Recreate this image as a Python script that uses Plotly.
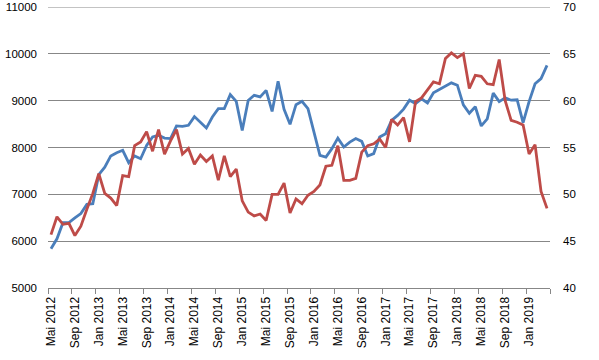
import plotly.graph_objects as go

month_names = ["Jan", "Feb", "Mär", "Apr", "Mai", "Jun", "Jul", "Aug", "Sep", "Okt", "Nov", "Dez"]
start_year, start_month = 2012, 5
n_months = 84
months = []
for k in range(n_months):
    m = (start_month - 1 + k) % 12
    y = start_year + (start_month - 1 + k) // 12
    months.append(f"{month_names[m]} {y}")

blue_values = [
    5840, 6050, 6395, 6395, 6495, 6590, 6785, 6800, 7420, 7580, 7820, 7890,
    7940, 7675, 7820, 7760, 8045, 8225, 8260, 8200, 8190, 8460, 8450, 8475,
    8660, 8545, 8415, 8650, 8830, 8830, 9130, 8985, 8365, 9005, 9115, 9080,
    9220, 8770, 9415, 8815, 8495, 8915, 8985, 8830, 8315, 7830, 7795, 7975,
    8200, 8010, 8115, 8190, 8130, 7820, 7870, 8225, 8295, 8580, 8685, 8820,
    9010, 8940, 9040, 8950, 9170, 9240, 9300, 9380, 9330, 8910, 8730, 8870,
    8460, 8610, 9160, 8980, 9060, 9010, 9020, 8530, 8980, 9360, 9470, 9755,
]
red_values = [
    45.7, 47.6, 46.8, 46.9, 45.6, 46.6, 48.4, 50.1, 52.2, 50.1, 49.6, 48.8,
    52.0, 51.9, 55.2, 55.6, 56.7, 54.6, 56.9, 54.3, 55.7, 56.9, 54.3, 54.9,
    53.2, 54.2, 53.5, 54.1, 51.5, 54.1, 51.9, 52.7, 49.3, 48.1, 47.7, 47.9,
    47.2, 50.0, 50.0, 51.2, 48.0, 49.5, 49.0, 49.9, 50.3, 51.0, 53.0, 53.1,
    55.2, 51.5, 51.5, 51.7, 54.5, 55.2, 55.4, 55.9, 55.0, 58.0, 57.4, 58.2,
    55.6, 59.9, 60.3, 61.2, 62.0, 61.8, 64.5, 65.1, 64.6, 65.0, 61.3, 62.7,
    62.6, 61.8, 61.7, 64.4, 60.0, 57.9, 57.7, 57.4, 54.3, 55.3, 50.3, 48.5,
]

left_ticks = [5000, 6000, 7000, 8000, 9000, 10000, 11000]
right_ticks = [40, 45, 50, 55, 60, 65, 70]

x_idx = list(range(len(months)))
label_step = 4
tick_idx = x_idx[::label_step]
tick_text = [months[i] for i in tick_idx]
boundary_ticks = [i - 0.5 for i in x_idx[::label_step]] + [len(months) - 0.5]

font_family = "Liberation Sans, Arial, sans-serif"
grid_color = "#878787"

fig = go.Figure()
fig.add_trace(go.Scatter(
    x=x_idx, y=blue_values, mode="lines",
    line=dict(color="#4A7EBB", width=2.8), yaxis="y", showlegend=False,
    hovertext=months,
))
fig.add_trace(go.Scatter(
    x=x_idx, y=red_values, mode="lines",
    line=dict(color="#BE4B48", width=2.8), yaxis="y2", showlegend=False,
    hovertext=months,
))

fig.update_layout(
    width=599, height=360,
    margin=dict(l=48, r=49, t=7, b=72, autoexpand=False),
    paper_bgcolor="white", plot_bgcolor="white",
    font=dict(family=font_family, size=12, color="#000000"),
    xaxis=dict(
        range=[-0.5, len(months) - 0.5], automargin=False,
        tickmode="array", tickvals=tick_idx, ticktext=tick_text,
        tickangle=-90, ticks="", showgrid=False, zeroline=False,
        showline=True, linecolor=grid_color, linewidth=1,
        minor=dict(tickmode="array", tickvals=boundary_ticks, ticks="outside",
                   ticklen=5, tickcolor=grid_color, showgrid=False),
        ticklabelstandoff=3, tickfont=dict(size=12),
    ),
    yaxis=dict(
        range=[left_ticks[0], left_ticks[-1]], automargin=False,
        tickmode="array", tickvals=left_ticks, ticktext=[str(v) for v in left_ticks],
        showgrid=True, gridcolor=grid_color, gridwidth=1,
        zeroline=False, showline=False, ticks="", ticklabeloverflow="allow",
        ticklabelstandoff=10, tickfont=dict(size=11.5),
    ),
    yaxis2=dict(
        range=[right_ticks[0], right_ticks[-1]], automargin=False,
        tickmode="array", tickvals=right_ticks, ticktext=[str(v) for v in right_ticks],
        overlaying="y", side="right", ticklabeloverflow="allow",
        showgrid=False, zeroline=False, showline=False, ticks="",
        ticklabelstandoff=12, tickfont=dict(size=11.5),
    ),
    shapes=[dict(type="line", xref="paper", yref="y", x0=0, x1=1,
                 y0=left_ticks[-1], y1=left_ticks[-1],
                 line=dict(color=grid_color, width=1), layer="below")],
)

fig.write_html("out.html", config={"displayModeBar": False},
               post_script="document.body.style.margin='0';")
